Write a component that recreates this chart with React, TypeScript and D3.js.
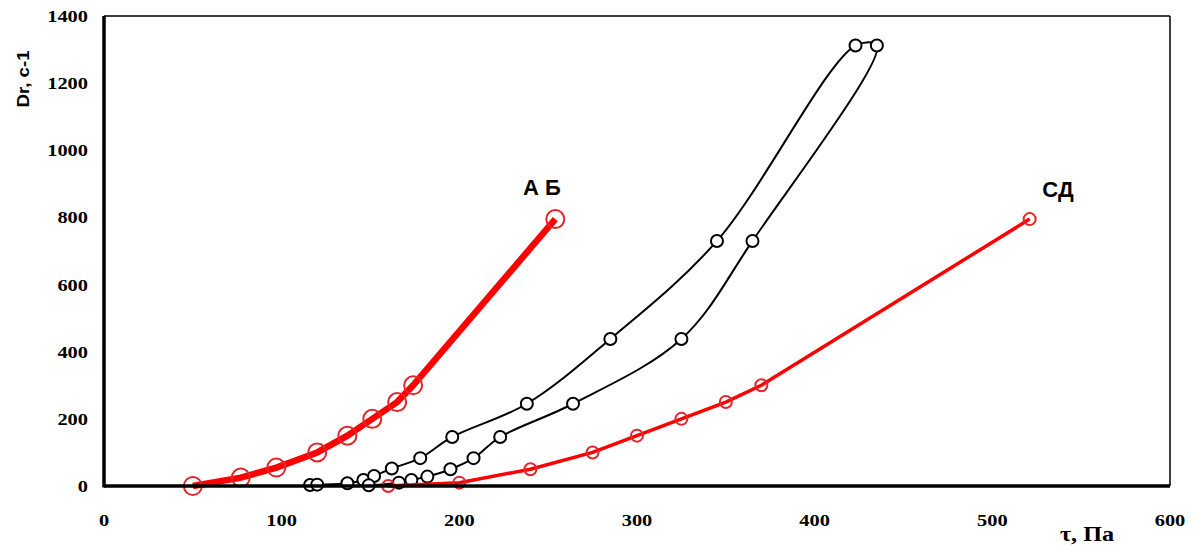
import React from 'react'
import * as d3 from 'd3'

// series AB (thick red), СД (thin red), hysteresis loop (black)
const abTau = [50, 77, 97, 120, 137, 151, 165, 174, 254]
const abDr = [0, 25, 55, 100, 150, 200, 250, 300, 795]

const sdTau = [160, 200, 240, 275, 300, 325, 350, 370, 521]
const sdDr = [0, 10, 50, 100, 150, 200, 250, 300, 795]

const loopTau = [116, 120, 137, 146, 152, 162, 178, 196, 238, 285, 345, 423,
  435, 365, 325, 264, 223, 208, 195, 182, 173, 166, 149]
const loopDr = [3, 4, 8, 18, 30, 52, 83, 146, 245, 438, 730, 1312,
  1312, 730, 438, 245, 146, 83, 50, 28, 18, 10, 2]

const xTicks = [0, 100, 200, 300, 400, 500, 600]
const yTicks = [0, 200, 400, 600, 800, 1000, 1200, 1400]

const W = 1194
const H = 546
const m = { left: 104, right: 1170, top: 16, bottom: 486 }

const App = () => {
  const x = d3.scaleLinear().domain([0, 600]).range([m.left, m.right])
  const y = d3.scaleLinear().domain([0, 1400]).range([m.bottom, m.top])

  const zip = (a: number[], b: number[]) => a.map((v, i) => [v, b[i]] as [number, number])
  const ab = zip(abTau, abDr)
  const sd = zip(sdTau, sdDr)
  const loop = zip(loopTau, loopDr)

  const straight = d3.line<[number, number]>().x(d => x(d[0])).y(d => y(d[1]))
  const smooth = d3.line<[number, number]>().x(d => x(d[0])).y(d => y(d[1])).curve(d3.curveCatmullRom.alpha(0.5))

  const serif = '"Liberation Serif", "Times New Roman", serif'
  const sans = '"Liberation Sans", Arial, sans-serif'
  const sx = 1.2 // the picture's text is stretched a bit horizontally

  return (
    <svg width={W} height={H} style={{ position: 'absolute', left: 0, top: 0, background: '#fff' }}>
      {/* frame */}
      <line x1={m.left} x2={m.right} y1={m.top} y2={m.top} stroke="#000" strokeWidth={1.5} />
      <line x1={m.right} x2={m.right} y1={m.top} y2={m.bottom} stroke="#000" strokeWidth={1.5} />

      {/* black loop */}
      <path d={smooth(loop) || ''} fill="none" stroke="#000" strokeWidth={2} />
      {loop.map((d, i) => (
        <circle key={'l' + i} cx={x(d[0])} cy={y(d[1])} r={6} fill="#fff" stroke="#000" strokeWidth={2} />
      ))}

      {/* СД */}
      <path d={straight(sd) || ''} fill="none" stroke="#f00" strokeWidth={3.5} />
      {sd.map((d, i) => (
        <circle key={'s' + i} cx={x(d[0])} cy={y(d[1])} r={6} fill="none" stroke="#e3262b" strokeWidth={2} />
      ))}

      {/* АБ */}
      <path d={straight(ab) || ''} fill="none" stroke="#f00" strokeWidth={6.5} />
      {ab.map((d, i) => (
        <circle key={'a' + i} cx={x(d[0])} cy={y(d[1])} r={9} fill="none" stroke="#e3262b" strokeWidth={2} />
      ))}

      {/* axes */}
      <line x1={m.left} x2={m.right} y1={m.bottom} y2={m.bottom} stroke="#000" strokeWidth={3.5} />
      <line x1={m.left} x2={m.left} y1={m.top} y2={m.bottom + 1.5} stroke="#000" strokeWidth={3.5} />

      {yTicks.map(t => (
        <text key={'y' + t} transform={`translate(88,${y(t) + 6}) scale(${sx},1)`} textAnchor="end"
          fontFamily={serif} fontWeight="bold" fontSize={17}>{t}</text>
      ))}
      {xTicks.map(t => (
        <text key={'x' + t} transform={`translate(${x(t)},526) scale(${sx},1)`} textAnchor="middle"
          fontFamily={serif} fontWeight="bold" fontSize={17}>{t}</text>
      ))}

      <text transform={`translate(1087,541) scale(1.1,1)`} textAnchor="middle" fontFamily={serif} fontWeight="bold" fontSize={22}>τ, Па</text>
      <text transform="translate(29,79) rotate(-90) scale(1.1,1)" textAnchor="middle" fontFamily={sans} fontWeight="bold" fontSize={17}>Dr, с-1</text>

      <text x={542} y={195} textAnchor="middle" fontFamily={sans} fontWeight="bold" fontSize={22}>А Б</text>
      <text x={1058} y={197} textAnchor="middle" fontFamily={sans} fontWeight="bold" fontSize={22}>СД</text>
    </svg>
  )
}

export default App
